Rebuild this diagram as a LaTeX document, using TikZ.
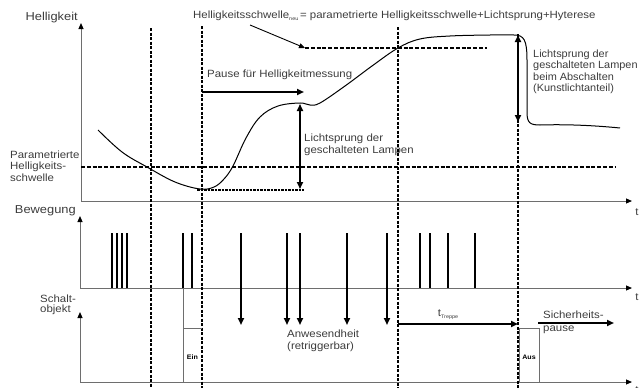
\documentclass[tikz,border=0pt]{standalone}
\usepackage{fontspec}
\setmainfont{Liberation Sans}[FakeStretch=1.09]
\newfontfamily\axisfont{Liberation Sans}[FakeStretch=1.12]
\newfontfamily\narrowfont{Liberation Sans}[FakeStretch=1.04]
\usetikzlibrary{arrows.meta}
\definecolor{txt}{HTML}{3C3C3C}
\definecolor{axisgray}{HTML}{6E6E6E}
\begin{document}
\begin{tikzpicture}[x=1pt,y=-1pt,
  lbl/.style={text=txt, font=\fontsize{10.5}{11.5}\selectfont, inner sep=0pt},
  axlbl/.style={text=txt, font=\axisfont\fontsize{11.5}{12}\selectfont, inner sep=0pt},
  boxlbl/.style={text=black, font=\fontsize{6.5}{7}\selectfont\bfseries, inner sep=0pt},
  axisline/.style={draw=axisgray, line width=1pt, -{Triangle[length=6pt,width=5pt,color=black]}},
  vdash/.style={draw=black, line width=1.3pt, dash pattern=on 3pt off 1.5pt},
  hdash/.style={draw=black, line width=1.3pt, dash pattern=on 4pt off 1.8pt},
  ddot/.style={draw=black, line width=1.4pt, dash pattern=on 2.5pt off 1pt},
  curve/.style={draw=black, line width=1pt},
  bar/.style={draw=black, line width=2pt},
  dnarrow/.style={draw=black, line width=1.8pt, -{Triangle[length=7pt,width=6pt]}},
  harrow/.style={draw=black, line width=1.8pt, -{Triangle[length=7pt,width=6pt]}},
  dblarrow/.style={draw=black, line width=1.6pt, {Triangle[length=7pt,width=6pt]}-{Triangle[length=7pt,width=6pt]}},
  thinarrow/.style={draw=black, line width=0.9pt, -{Triangle[length=6pt,width=5pt]}},
  boxline/.style={draw=axisgray, line width=1pt},
]
\useasboundingbox (0,0) rectangle (641,388);

% ---------- axes ----------
\coordinate (o1) at (81,201);
\coordinate (y1) at (81,23);
\coordinate (x1) at (632,201);
\coordinate (o2) at (80,288);
\coordinate (y2) at (80,216);
\coordinate (x2) at (632,288);
\coordinate (o3) at (80,382);
\coordinate (y3) at (80,312);
\coordinate (x3) at (632,382);
\draw[axisline] (o1) -- (y1);
\draw[axisline] (o1) -- (x1);
\draw[axisline] (o2) -- (y2);
\draw[axisline] (o2) -- (x2);
\draw[axisline] (o3) -- (y3);
\draw[axisline] (o3) -- (x3);

\node[axlbl, anchor=east] (hell) at (78,18) {Helligkeit};
\node[axlbl, anchor=east] (bew) at (76,211) {Bewegung};
\node[lbl, anchor=west, align=left, font=\fontsize{10.5}{9.5}\selectfont] (schalt) at (40,305) {Schalt-\\objekt};
\node[lbl] (t1) at (637,212) {t};
\node[lbl] (t2) at (637,297) {t};
\node[lbl] (t3) at (637,390) {t};

% ---------- vertical dashed lines ----------
\coordinate (v1t) at (151,28);  \coordinate (v1b) at (151,388);
\coordinate (v2t) at (202,26);  \coordinate (v2b) at (202,388);
\coordinate (v3t) at (398,27);  \coordinate (v3b) at (398,388);
\coordinate (v4t) at (518,34);  \coordinate (v4b) at (518,388);
\draw[vdash] (v1t) -- (v1b);
\draw[vdash] (v2t) -- (v2b);
\draw[vdash] (v3t) -- (v3b);
\draw[vdash] (v4t) -- (v4b);

% ---------- horizontal dashed lines ----------
\coordinate (th1) at (81,167);  \coordinate (th2) at (616,167);
\draw[hdash] (th1) -- (th2);
\coordinate (nu1) at (305,48);  \coordinate (nu2) at (487,48);
\draw[hdash] (nu1) -- (nu2);
\coordinate (lo1) at (197,190); \coordinate (lo2) at (304,190);
\draw[ddot] (lo1) -- (lo2);

% ---------- brightness curve ----------
\draw[curve] plot[smooth, tension=0.6] coordinates {(98,130) (122,152) (147,167) (175,182) (200,189) (214,187) (224,179) (233,166) (246,138) (260,117) (278,106) (300,103) (310,105) (320,103) (345,86) (372,66) (398,48) (420,39) (450,36) (490,35) (514,35)}
  .. controls (524,35) and (527,40) .. (527,60) -- (527,112)
  .. controls (527,123) and (530,125) .. (540,125)
  .. controls (570,124) and (600,126) .. (620,128);

% ---------- labels upper part ----------
\node[lbl, anchor=west] (neu) at (193,16) {Helligkeitsschwelle\raisebox{-2pt}{\fontsize{5}{6}\selectfont neu}\,= parametrierte Helligkeitsschwelle+Lichtsprung+Hyterese};
\coordinate (neuA) at (250,25);
\draw[thinarrow] (neuA) -- (nu1);

\node[lbl, anchor=west, align=left] (param) at (10,166) {Parametrierte\\Helligkeits-\\schwelle};

\node[lbl, anchor=west] (pause) at (207,75) {Pause für Helligkeitmessung};
\coordinate (pa1) at (202,92); \coordinate (pa2) at (304,92);
\draw[harrow] (pa1) -- (pa2);

\coordinate (ls1t) at (300,104); \coordinate (ls1b) at (300,189);
\draw[dblarrow] (ls1t) -- (ls1b);
\node[lbl, anchor=west, align=left] (ls1) at (304,145) {Lichtsprung der\\geschalteten Lampen};

\coordinate (ls2t) at (518,35); \coordinate (ls2b) at (518,122);
\draw[dblarrow] (ls2t) -- (ls2b);
\node[lbl, anchor=west, align=left, font=\narrowfont\fontsize{10.5}{11.5}\selectfont] (ls2) at (533,72) {Lichtsprung der\\geschalteten Lampen\\beim Abschalten\\(Kunstlichtanteil)};

% ---------- motion bars ----------
\foreach \x in {112,117,122,127,183,192,420,430,448,475}
  \draw[bar] (\x,233) -- (\x,288);
\foreach \x in {241,287,300,347,387}
  \draw[dnarrow] (\x,233) -- (\x,325);

% ---------- switching object ----------
\coordinate (e1) at (183,288); \coordinate (e2) at (183,382);
\coordinate (e3) at (183,328); \coordinate (e4) at (202,328);
\draw[boxline] (e1) -- (e2);
\draw[boxline] (e3) -- (e4);
\node[boxlbl] (ein) at (192.5,357) {Ein};

\coordinate (a1) at (519,328); \coordinate (a2) at (539,328);
\coordinate (a3) at (519,382); \coordinate (a4) at (539,382);
\draw[boxline] (a3) -- (a1) -- (a2) -- (a4);
\node[boxlbl] (aus) at (529,357) {Aus};

\node[lbl, anchor=west, align=left] (anw) at (287,341) {Anwesendheit\\(retriggerbar)};

\coordinate (tt1) at (398,324); \coordinate (tt2) at (518,324);
\draw[harrow] (tt1) -- (tt2);
\node[lbl] (ttr) at (448,315) {t\raisebox{-2pt}{\fontsize{5}{6}\selectfont Treppe}};

\coordinate (si1) at (538,323); \coordinate (si2) at (614,323);
\draw[harrow] (si1) -- (si2);
\node[lbl, anchor=west, align=left, font=\fontsize{10.5}{13}\selectfont] (sich) at (543,322.5) {Sicherheits-\\pause};
\end{tikzpicture}
\end{document}
